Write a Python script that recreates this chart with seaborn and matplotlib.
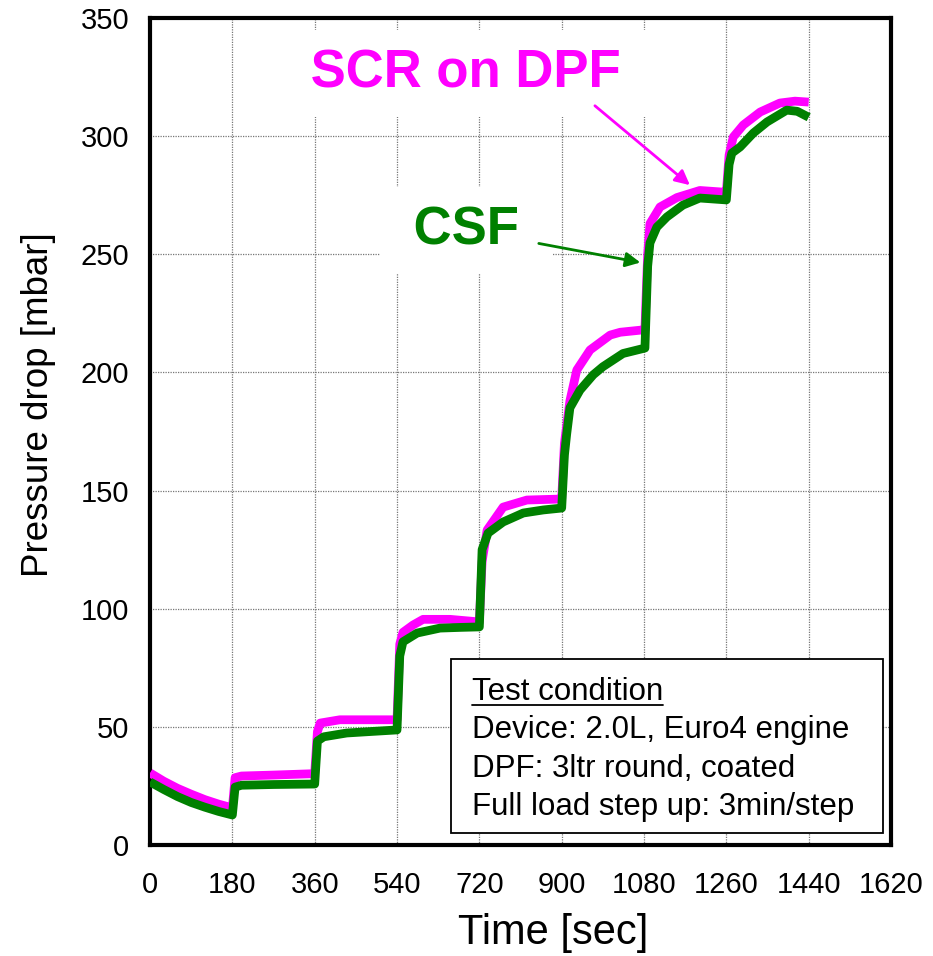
import matplotlib
matplotlib.use("Agg")
import matplotlib.pyplot as plt
import seaborn as sns
import pandas as pd
from matplotlib.patches import Rectangle
from matplotlib.lines import Line2D

# ---------------- data ----------------
t_csf = [0, 30, 60, 90, 120, 150, 180, 186, 200, 270, 360, 366, 380, 430, 480, 540,
         546, 553, 584, 634, 680, 720, 726, 739, 772, 816, 860, 900, 906, 911, 918,
         940, 969, 990, 1034, 1082, 1088, 1093, 1108, 1130, 1165, 1202, 1260, 1266,
         1272, 1290, 1319, 1349, 1392, 1415, 1440]
v_csf = [26.7, 23.5, 20.5, 18.0, 16.0, 14.2, 12.7, 24.5, 25.3, 25.6, 25.8, 44.0, 45.8,
         47.4, 48.0, 48.7, 80.0, 86.0, 89.7, 91.8, 92.1, 92.3, 125.0, 132.0, 136.7,
         140.5, 141.8, 142.6, 165.0, 174.0, 185.0, 192.5, 199.0, 202.4, 208.0, 210.3,
         245.0, 254.8, 261.5, 265.8, 270.8, 273.8, 273.0, 288.0, 292.8, 295.4, 301.3,
         306.0, 311.0, 310.5, 308.0]

t_scr = [0, 30, 60, 90, 120, 150, 180, 186, 200, 270, 360, 366, 372, 415, 480, 540,
         546, 553, 575, 597, 656, 714, 720, 726, 737, 772, 824, 896, 900, 906, 918,
         933, 962, 1006, 1028, 1078, 1082, 1088, 1093, 1115, 1152, 1202, 1253, 1260,
         1266, 1275, 1297, 1334, 1377, 1410, 1440]
v_scr = [30.5, 27.0, 24.0, 21.5, 19.2, 17.3, 15.7, 28.5, 29.2, 29.6, 30.2, 48.0, 51.6,
         53.0, 53.0, 53.0, 85.0, 90.0, 93.1, 95.5, 95.5, 94.5, 94.3, 120.0, 133.3,
         143.0, 146.0, 146.4, 146.5, 170.0, 188.0, 201.0, 209.5, 215.8, 217.0, 218.0,
         218.2, 250.0, 263.0, 270.0, 274.0, 277.0, 276.3, 276.3, 292.0, 299.6, 304.7,
         310.2, 314.0, 314.8, 314.4]

x_ticks = [0, 180, 360, 540, 720, 900, 1080, 1260, 1440, 1620]
y_ticks = [0, 50, 100, 150, 200, 250, 300, 350]
series_names = ["SCR on DPF", "CSF"]
box_lines = ["Test condition", "Device: 2.0L, Euro4 engine",
             "DPF: 3ltr round, coated", "Full load step up: 3min/step"]

# ---------------- style ----------------
sns.set_style("white")
plt.rcParams["font.family"] = ["Liberation Sans", "DejaVu Sans"]
for k in ["text.color", "axes.labelcolor", "xtick.color", "ytick.color"]:
    plt.rcParams[k] = "black"

MAG = "#FF00FF"
GRN = "#008000"

fig = plt.figure(figsize=(9.33, 9.56), dpi=100)
ax = fig.add_axes([0.1608, 0.1161, 0.955 - 0.1608, 0.9812 - 0.1161])

df_scr = pd.DataFrame({"t": t_scr, "v": v_scr})
df_csf = pd.DataFrame({"t": t_csf, "v": v_csf})
sns.lineplot(data=df_scr, x="t", y="v", color=MAG, lw=6.3, estimator=None,
             sort=False, ax=ax, zorder=3, solid_capstyle="butt")
sns.lineplot(data=df_csf, x="t", y="v", color=GRN, lw=6.3, estimator=None,
             sort=False, ax=ax, zorder=4, solid_capstyle="butt")

ax.set_xlim(0, 1620)
ax.set_ylim(0, 350)
ax.set_xticks(x_ticks)
ax.set_yticks(y_ticks)
ax.grid(True, color="#777777", linestyle=(0, (1, 1)), lw=0.9)
ax.set_axisbelow(True)
for s in ax.spines.values():
    s.set_visible(True)
    s.set_linewidth(3)
    s.set_color("black")
ax.tick_params(axis="both", direction="in", length=5, width=1, labelsize=21,
               colors="black")
ax.tick_params(axis="x", pad=19)
ax.tick_params(axis="y", pad=15)

ax.set_xlabel("Time [sec]", fontsize=30)
ax.xaxis.set_label_coords(0.544, -0.082)
ax.set_ylabel("Pressure drop [mbar]", fontsize=26.5, va="center")
ax.yaxis.set_label_coords(-0.151, 0.532)

# annotations
bbox_w = dict(boxstyle="square,pad=0.35", fc="white", ec="none")
ax.text(691, 326.7, " " + series_names[0] + " ", color=MAG, fontsize=38,
        fontweight="bold", ha="center", va="center", bbox=bbox_w, zorder=2)
ax.text(691, 260, " " + series_names[1] + " ", color=GRN, fontsize=38,
        fontweight="bold", ha="center", va="center", bbox=bbox_w, zorder=2)
ax.annotate("", xy=(1185, 278.5), xytext=(968, 313.6),
            arrowprops=dict(arrowstyle="-|>", color=MAG, lw=2, mutation_scale=22),
            zorder=5)
ax.annotate("", xy=(1078, 246.3), xytext=(844, 254.8),
            arrowprops=dict(arrowstyle="-|>", color=GRN, lw=2, mutation_scale=22),
            zorder=5)

# test condition box
ax.add_patch(Rectangle((0.406, 0.0145), 0.583, 0.2105, transform=ax.transAxes,
                       fc="white", ec="black", lw=1.3, zorder=6))
baselines = [0.1753, 0.1294, 0.0822, 0.0363]
texts = []
for line, yb in zip(box_lines, baselines):
    texts.append(ax.text(0.4345, yb, line, transform=ax.transAxes, fontsize=22.5,
                         ha="left", va="baseline", zorder=7))

fig.canvas.draw()
bb = texts[0].get_window_extent(renderer=fig.canvas.get_renderer())
inv = ax.transAxes.inverted()
(x0, _), (x1, _) = inv.transform([[bb.x0, bb.y0], [bb.x1, bb.y0]])
ax.add_line(Line2D([x0, x1], [0.1753 - 0.006, 0.1753 - 0.006], transform=ax.transAxes,
                   color="black", lw=1.3, zorder=7))

fig.savefig("out.png", dpi=100)
